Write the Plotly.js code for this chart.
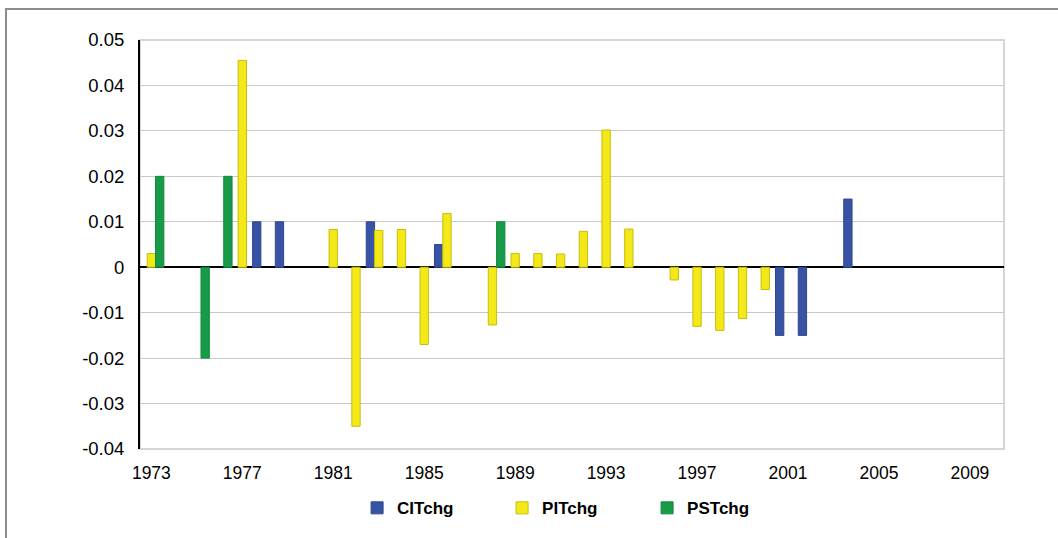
<!DOCTYPE html>
<html>
<head>
<meta charset="utf-8">
<script src="https://cdn.plot.ly/plotly-3.0.1.min.js"></script>
<style>
  html, body { margin: 0; padding: 0; background: #ffffff; }
  #chart { width: 1058px; height: 538px; }
  #frame { position: absolute; left: 5px; top: 8px; width: 1100px; height: 600px;
           border-left: 2px solid #8c8c8c; border-top: 2px solid #8c8c8c; pointer-events: none; }
</style>
</head>
<body>
<div id="chart"></div>
<div id="frame"></div>
<script>
// Categories: every year 1973..2010
const years = ['1973','1974','1975','1976','1977','1978','1979','1980','1981','1982',
               '1983','1984','1985','1986','1987','1988','1989','1990','1991','1992',
               '1993','1994','1995','1996','1997','1998','1999','2000','2001','2002',
               '2003','2004','2005','2006','2007','2008','2009','2010'];
const xTickVals = ['1973','1977','1981','1985','1989','1993','1997','2001','2005','2009'];

// CITchg
const citYears  = ['1978','1979','1983','1986','2001','2002','2004'];
const citValues = [0.010, 0.010, 0.010, 0.005, -0.015, -0.015, 0.015];

// PITchg
const pitYears  = ['1973','1977','1981','1982','1983','1984','1985','1986','1988','1989',
                   '1990','1991','1992','1993','1994','1996','1997','1998','1999','2000'];
const pitValues = [0.003, 0.0455, 0.0083, -0.035, 0.0081, 0.0083, -0.017, 0.0118, -0.0127, 0.003,
                   0.003, 0.0029, 0.0079, 0.0302, 0.0084, -0.0028, -0.013, -0.0139, -0.0113, -0.0049];

// PSTchg
const pstYears  = ['1973','1975','1976','1988'];
const pstValues = [0.020, -0.020, 0.020, 0.010];

// Y tick labels
const yTickVals = [-0.04, -0.03, -0.02, -0.01, 0, 0.01, 0.02, 0.03, 0.04, 0.05];
const yTickText = ['-0.04','-0.03','-0.02','-0.01','0','0.01','0.02','0.03','0.04','0.05'];

const seriesNames = ['CITchg', 'PITchg', 'PSTchg'];

const FONT = '"Liberation Sans", Arial, Helvetica, sans-serif';
const barW = 0.366;

const traces = [
  { type: 'bar', name: seriesNames[0], x: citYears, y: citValues,
    width: barW, offset: -0.549,
    marker: { color: '#3953a4', line: { color: '#2f4690', width: 1 } } },
  { type: 'bar', name: seriesNames[1], x: pitYears, y: pitValues,
    width: barW, offset: -0.183,
    marker: { color: '#f3e919', line: { color: '#c9bd0a', width: 1 } } },
  { type: 'bar', name: seriesNames[2], x: pstYears, y: pstValues,
    width: barW, offset: 0.183,
    marker: { color: '#179b48', line: { color: '#108a3c', width: 1 } } }
];

const layout = {
  width: 1058, height: 538,
  margin: { l: 140, r: 54, t: 40, b: 85 },
  paper_bgcolor: '#ffffff',
  plot_bgcolor: '#ffffff',
  barmode: 'overlay',
  showlegend: true,
  font: { family: FONT, color: '#000000', size: 16 },
  xaxis: {
    type: 'category',
    categoryorder: 'array',
    categoryarray: years,
    range: [-0.5, years.length - 0.5],
    tickmode: 'array',
    tickvals: xTickVals,
    ticktext: xTickVals,
    tickfont: { family: FONT, size: 17.5, color: '#000' },
    showgrid: false,
    showline: false,
    zeroline: false,
    ticks: '',
    ticklabelstandoff: 11,
    fixedrange: true
  },
  yaxis: {
    range: [-0.04, 0.05],
    tickmode: 'array',
    tickvals: yTickVals,
    ticktext: yTickText,
    tickfont: { family: FONT, size: 18.5, color: '#000' },
    showgrid: true,
    gridcolor: '#c8c8c8',
    gridwidth: 1,
    zeroline: true,
    zerolinecolor: '#000000',
    zerolinewidth: 2,
    showline: true,
    linecolor: '#000000',
    linewidth: 2,
    ticks: '',
    ticklabelstandoff: 10,
    fixedrange: true
  },
  shapes: [
    { type: 'rect', xref: 'paper', yref: 'paper', x0: 0, x1: 1, y0: 0, y1: 1,
      line: { color: '#c8c8c8', width: 1.5 }, fillcolor: 'rgba(0,0,0,0)', layer: 'below' }
  ],
  legend: {
    orientation: 'h',
    x: 0.503, xanchor: 'center',
    y: -0.145, yanchor: 'middle',
    font: { family: FONT, size: 17, color: '#000', weight: 'bold' },
    entrywidth: 100,
    entrywidthmode: 'pixels',
    bgcolor: 'rgba(0,0,0,0)'
  }
};

Plotly.newPlot('chart', traces, layout, { displayModeBar: false, staticPlot: true });
</script>
</body>
</html>
